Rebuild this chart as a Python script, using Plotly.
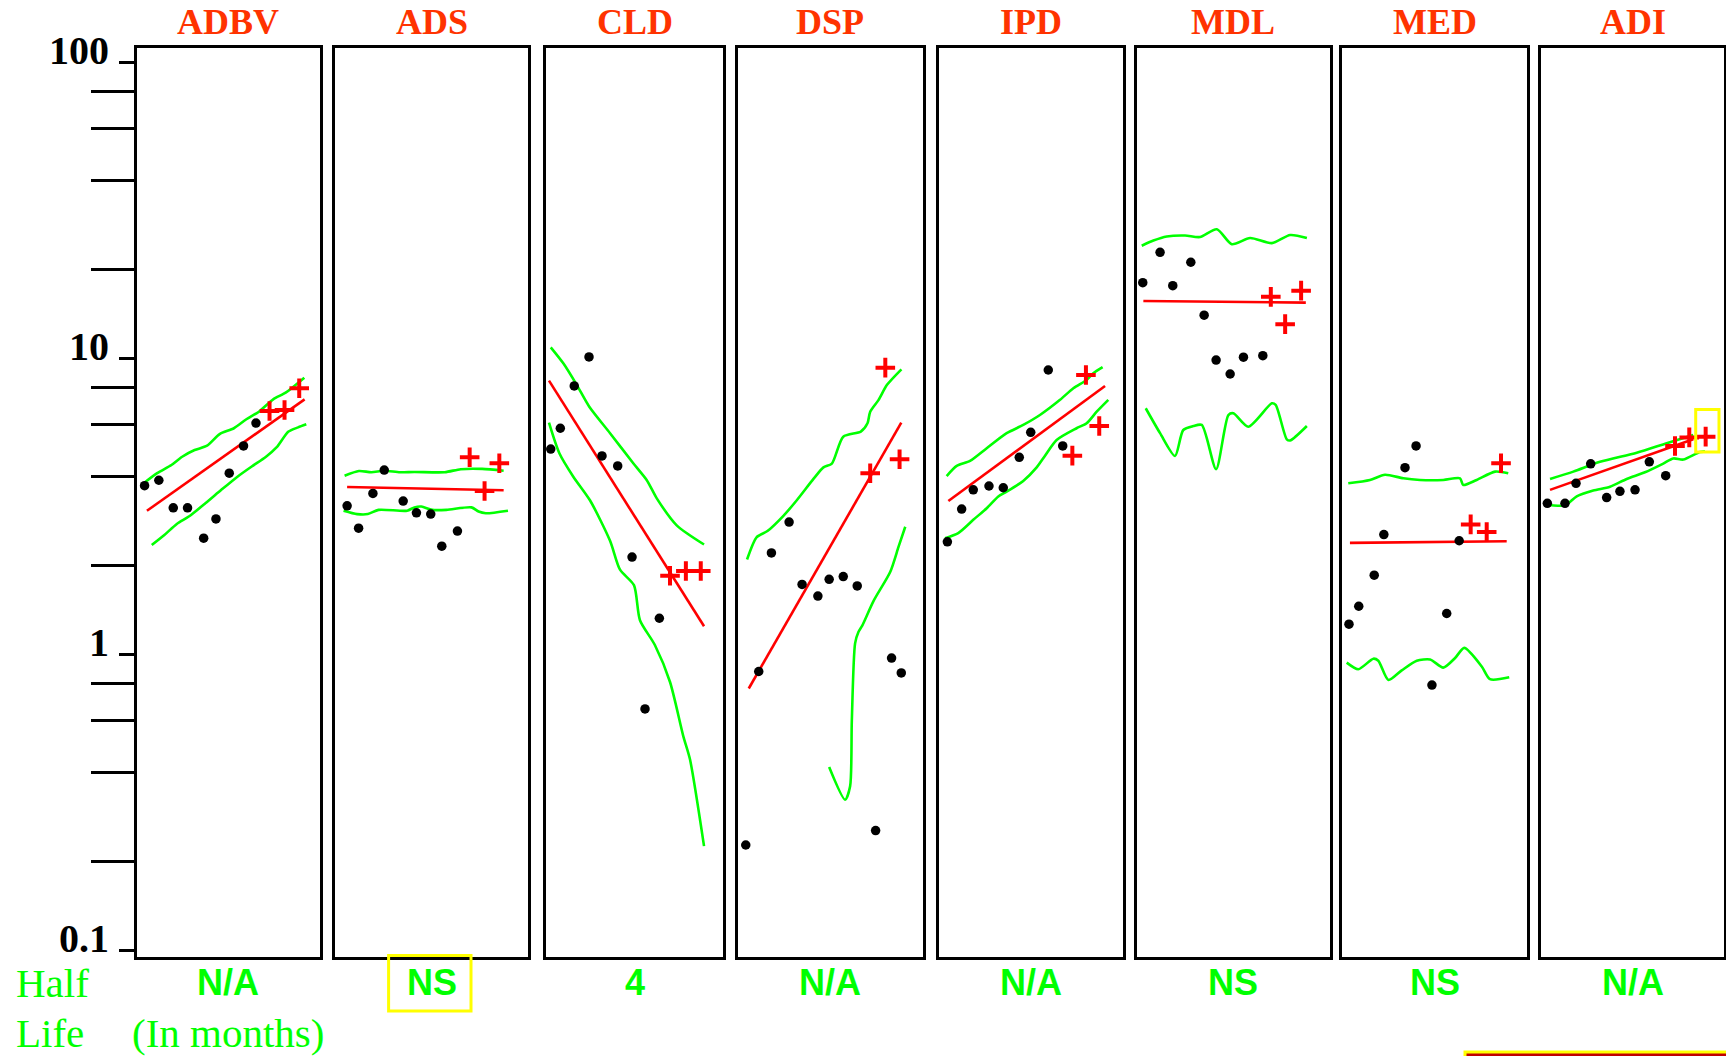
import math
import plotly.graph_objects as go

# ---- data -------------------------------------------------------------
PANELS = ["ADBV", "ADS", "CLD", "DSP", "IPD", "MDL", "MED", "ADI"]
HALF_LIFE = ["N/A", "NS", "4", "N/A", "N/A", "NS", "NS", "N/A"]

# panel frame edges in pixels (left, right)
FRAME_LEFT = [136.5, 334.6, 545.7, 737.5, 939.3, 1137.3, 1342.3, 1540.7]
FRAME_RIGHT = [320.3, 528.4, 723.3, 922.8, 1123.3, 1329.5, 1526.7, 1724.3]

# observed values (black dots), time in quarters
ADBV_obs_t = [0.57, 1.58, 2.60, 3.61, 4.75, 5.62, 6.56, 7.57, 8.45]
ADBV_obs_v = [3.73, 3.89, 3.14, 3.14, 2.48, 2.88, 4.11, 5.08, 6.07]
ADBV_new_t = [9.41, 10.47, 11.51]
ADBV_new_v = [6.67, 6.72, 7.96]
ADBV_fit_t = [0.74, 11.89]
ADBV_fit_v = [3.07, 7.30]
ADBV_up_t = [0.45, 1.46, 2.47, 3.23, 4.11, 4.99, 5.88, 6.89, 7.77, 8.66, 9.67, 10.55, 11.87]
ADBV_up_v = [3.78, 4.11, 4.38, 4.67, 4.92, 5.09, 5.57, 5.83, 6.25, 6.63, 7.30, 7.69, 8.64]
ADBV_lo_t = [1.08, 1.97, 2.85, 3.73, 4.87, 6.0, 7.14, 8.15, 9.16, 9.92, 10.75, 11.43, 12.01]
ADBV_lo_v = [2.35, 2.54, 2.77, 2.94, 3.25, 3.61, 4.00, 4.33, 4.67, 5.03, 5.68, 5.87, 6.01]

ADS_obs_t = [0.84, 1.61, 2.57, 3.33, 4.60, 5.49, 6.45, 7.19, 8.24]
ADS_obs_v = [3.19, 2.68, 3.51, 4.21, 3.31, 3.02, 2.99, 2.33, 2.62]
ADS_new_t = [9.06, 10.06, 11.05]
ADS_new_v = [4.65, 3.58, 4.44]
ADS_fit_t = [0.84, 11.34]
ADS_fit_v = [3.69, 3.60]
ADS_up_t = [0.67, 1.63, 2.47, 3.31, 4.39, 5.35, 7.38, 8.46, 9.90, 11.34]
ADS_up_v = [4.03, 4.18, 4.14, 4.19, 4.14, 4.15, 4.14, 4.24, 4.25, 4.19]
ADS_lo_t = [0.60, 1.51, 2.23, 2.95, 4.86, 5.35, 5.82, 6.54, 7.50, 9.18, 9.66, 10.14, 11.63]
ADS_lo_v = [3.07, 2.99, 2.99, 3.09, 3.07, 3.15, 3.17, 3.09, 3.09, 3.15, 3.05, 3.01, 3.07]

CLD_obs_t = [0.37, 1.07, 2.09, 3.17, 4.12, 5.27, 6.32, 7.27, 8.32]
CLD_obs_v = [4.96, 5.83, 8.10, 10.15, 4.70, 4.35, 2.14, 0.657, 1.33]
CLD_new_t = [9.10, 10.26, 11.35]
CLD_new_v = [1.85, 1.92, 1.92]
CLD_fit_t = [0.24, 11.59]
CLD_fit_v = [8.44, 1.25]
CLD_up_t = [0.37, 1.29, 2.27, 3.19, 4.71, 6.41, 7.39, 8.13, 9.59, 11.59]
CLD_up_v = [10.94, 9.66, 8.17, 6.89, 5.61, 4.44, 3.90, 3.38, 2.74, 2.36]
CLD_lo_t = [0.24, 1.0, 2.02, 3.24, 4.71, 5.44, 6.46, 6.90, 7.99, 9.10, 10.07, 10.56, 11.59]
CLD_lo_v = [6.09, 4.80, 4.00, 3.33, 2.43, 1.94, 1.72, 1.31, 1.08, 0.81, 0.532, 0.444, 0.226]

DSP_obs_t = [0.58, 1.49, 2.38, 3.62, 4.53, 5.64, 6.43, 7.42, 8.40, 9.69, 10.81, 11.49]
DSP_obs_v = [0.228, 0.879, 2.21, 2.81, 1.73, 1.58, 1.80, 1.84, 1.71, 0.255, 0.976, 0.869]
DSP_new_t = [9.31, 10.37, 11.37]
DSP_new_v = [4.11, 9.34, 4.58]
DSP_fit_t = [0.79, 11.49]
DSP_fit_v = [0.77, 6.09]
DSP_up_t = [0.67, 1.35, 2.10, 3.22, 4.16, 5.33, 6.03, 6.62, 7.42, 8.65, 9.12, 9.31, 9.90, 10.49, 11.50]
DSP_up_v = [2.10, 2.50, 2.62, 2.95, 3.33, 3.93, 4.30, 4.43, 5.46, 5.68, 6.06, 6.63, 7.27, 8.17, 9.22]
DSP_lo_t = [6.43, 7.55, 7.90, 8.02, 8.25, 8.49, 8.73, 9.54, 10.72, 11.30, 11.77]
DSP_lo_v = [0.418, 0.324, 0.36, 0.60, 1.094, 1.197, 1.25, 1.52, 1.91, 2.32, 2.71]

IPD_obs_t = [0.57, 1.58, 2.40, 3.51, 4.52, 5.65, 6.46, 7.70, 8.72]
IPD_obs_v = [2.41, 3.11, 3.61, 3.72, 3.67, 4.65, 5.65, 9.17, 5.08]
IPD_new_t = [9.40, 10.36, 11.30]
IPD_new_v = [4.71, 8.82, 5.93]
IPD_fit_t = [0.64, 11.71]
IPD_fit_v = [3.31, 8.10]
IPD_up_t = [0.52, 1.23, 2.17, 3.35, 4.76, 5.93, 7.11, 8.53, 9.47, 10.41, 10.88, 11.54]
IPD_up_v = [4.02, 4.35, 4.52, 4.99, 5.61, 5.98, 6.46, 7.27, 7.96, 8.49, 8.94, 9.37]
IPD_lo_t = [0.40, 1.34, 2.40, 3.35, 4.17, 4.76, 5.93, 6.88, 7.47, 8.29, 9.70, 10.41, 11.12, 11.94]
IPD_lo_v = [2.48, 2.58, 2.86, 3.13, 3.43, 3.56, 3.87, 4.30, 4.71, 5.32, 5.83, 6.06, 6.63, 7.27]

MDL_obs_t = [0.37, 1.54, 2.40, 3.62, 4.52, 5.33, 6.28, 7.18, 8.49]
MDL_obs_v = [18.09, 22.9, 17.67, 21.2, 14.04, 9.91, 8.89, 10.13, 10.25]
MDL_new_t = [9.03, 10.0, 11.08]
MDL_new_v = [16.2, 13.1, 17.0]
MDL_fit_t = [0.41, 11.40]
MDL_fit_v = [15.69, 15.49]
MDL_up_t = [0.30, 1.09, 1.99, 3.23, 4.24, 5.38, 6.39, 7.63, 9.10, 10.34, 11.47]
MDL_up_v = [24.1, 25.1, 25.9, 26.1, 25.8, 27.4, 24.4, 25.6, 24.6, 26.2, 25.6]
MDL_lo_t = [0.57, 1.54, 2.55, 3.11, 3.79, 4.36, 5.33, 6.16, 6.50, 7.51, 9.10, 9.36, 10.11, 10.34, 11.47]
MDL_lo_v = [6.81, 5.61, 4.70, 5.75, 5.93, 5.98, 4.24, 6.46, 6.55, 5.90, 7.08, 6.99, 5.35, 5.30, 5.93]

MED_obs_t = [0.47, 1.16, 2.25, 2.93, 4.42, 5.20, 6.32, 7.36, 8.24]
MED_obs_v = [1.27, 1.46, 1.86, 2.55, 4.29, 5.08, 0.791, 1.38, 2.43]
MED_new_t = [9.05, 10.18, 11.19]
MED_new_v = [2.76, 2.60, 4.44]
MED_fit_t = [0.54, 11.59]
MED_fit_v = [2.39, 2.42]
MED_up_t = [0.42, 1.95, 3.01, 4.30, 5.48, 7.12, 8.30, 8.53, 9.47, 10.77, 11.70]
MED_up_v = [3.80, 3.90, 4.06, 3.95, 3.90, 3.90, 3.95, 3.75, 3.90, 4.16, 4.11]
MED_lo_t = [0.31, 1.13, 2.19, 2.54, 3.25, 4.19, 5.25, 6.19, 7.12, 7.95, 8.60, 9.83, 10.41, 11.77]
MED_lo_v = [0.942, 0.895, 0.971, 0.956, 0.823, 0.887, 0.956, 0.965, 0.906, 0.976, 1.056, 0.914, 0.828, 0.840]

ADI_obs_t = [0.47, 1.72, 2.50, 3.54, 4.67, 5.61, 6.68, 7.69, 8.85]
ADI_obs_v = [3.25, 3.25, 3.80, 4.42, 3.40, 3.57, 3.61, 4.49, 4.03]
ADI_new_t = [9.51, 10.52, 11.68]
ADI_new_v = [5.08, 5.43, 5.46]
ADI_fit_t = [0.66, 10.80]
ADI_fit_v = [3.61, 5.35]
ADI_up_t = [0.66, 2.31, 4.20, 6.80, 8.92, 10.80]
ADI_up_v = [3.93, 4.16, 4.49, 4.82, 5.19, 5.53]
ADI_lo_t = [0.23, 1.72, 2.55, 3.72, 4.91, 6.09, 7.38, 8.68, 9.39, 10.10, 11.28, 11.63]
ADI_lo_v = [3.23, 3.20, 3.43, 3.59, 3.70, 3.93, 4.14, 4.43, 4.61, 4.57, 4.85, 4.86]

Y_MAJOR = [0.1, 1, 10, 100]
Y_MAJOR_TEXT = ["0.1", "1", "10", "100"]
Y_MINOR = [0.2, 0.4, 0.6, 0.8, 2, 4, 6, 8, 20, 40, 60, 80]

# ---- figure -----------------------------------------------------------
W, H = 1726, 1056
GREEN = "#00FF00"
RED = "#FF0000"
TITLE_COLOR = "#FF3300"
SERIF = "Liberation Serif"
SANS = "Liberation Sans"

series = {
    "ADBV": (ADBV_obs_t, ADBV_obs_v, ADBV_new_t, ADBV_new_v, ADBV_fit_t, ADBV_fit_v,
             ADBV_up_t, ADBV_up_v, ADBV_lo_t, ADBV_lo_v),
    "ADS": (ADS_obs_t, ADS_obs_v, ADS_new_t, ADS_new_v, ADS_fit_t, ADS_fit_v,
            ADS_up_t, ADS_up_v, ADS_lo_t, ADS_lo_v),
    "CLD": (CLD_obs_t, CLD_obs_v, CLD_new_t, CLD_new_v, CLD_fit_t, CLD_fit_v,
            CLD_up_t, CLD_up_v, CLD_lo_t, CLD_lo_v),
    "DSP": (DSP_obs_t, DSP_obs_v, DSP_new_t, DSP_new_v, DSP_fit_t, DSP_fit_v,
            DSP_up_t, DSP_up_v, DSP_lo_t, DSP_lo_v),
    "IPD": (IPD_obs_t, IPD_obs_v, IPD_new_t, IPD_new_v, IPD_fit_t, IPD_fit_v,
            IPD_up_t, IPD_up_v, IPD_lo_t, IPD_lo_v),
    "MDL": (MDL_obs_t, MDL_obs_v, MDL_new_t, MDL_new_v, MDL_fit_t, MDL_fit_v,
            MDL_up_t, MDL_up_v, MDL_lo_t, MDL_lo_v),
    "MED": (MED_obs_t, MED_obs_v, MED_new_t, MED_new_v, MED_fit_t, MED_fit_v,
            MED_up_t, MED_up_v, MED_lo_t, MED_lo_v),
    "ADI": (ADI_obs_t, ADI_obs_v, ADI_new_t, ADI_new_v, ADI_fit_t, ADI_fit_v,
            ADI_up_t, ADI_up_v, ADI_lo_t, ADI_lo_v),
}

fig = go.Figure()
Y_TOP, Y_BOT = 48.3, 956.6
y_domain = [1 - Y_BOT / H, 1 - Y_TOP / H]
y_range = [-1.019, 2.049]

layout = {}
annotations = []
for i, name in enumerate(PANELS):
    k = "" if i == 0 else str(i + 1)
    xa, ya = "x" + k, "y" + k
    ot, ov, nt, nv, ft, fv, ut, uv, lt, lv = series[name]

    for tt, vv in ((ut, uv), (lt, lv)):
        fig.add_trace(go.Scatter(x=tt, y=vv, mode="lines", xaxis=xa, yaxis=ya,
                                 line=dict(color=GREEN, width=2.6, shape="spline",
                                           smoothing=0.7),
                                 hoverinfo="skip"))
    fig.add_trace(go.Scatter(x=ft, y=fv, mode="lines", xaxis=xa, yaxis=ya,
                             line=dict(color=RED, width=2.6), hoverinfo="skip"))
    fig.add_trace(go.Scatter(x=ot, y=ov, mode="markers", xaxis=xa, yaxis=ya,
                             marker=dict(color="black", size=9.5)))
    fig.add_trace(go.Scatter(x=nt, y=nv, mode="markers", xaxis=xa, yaxis=ya,
                             marker=dict(symbol="cross-thin", size=14,
                                         line=dict(color=RED, width=4))))

    frame = dict(showline=True, mirror=True, linewidth=3, linecolor="black",
                 showgrid=False, zeroline=False, automargin=False)
    layout["xaxis" + k] = dict(domain=[FRAME_LEFT[i] / W, FRAME_RIGHT[i] / W],
                               range=[0, 13], anchor=ya, ticks="",
                               showticklabels=False, **frame)
    yax = dict(domain=y_domain, type="log", range=y_range, anchor=xa, **frame)
    if i == 0:
        yax.update(tickmode="array", tickvals=Y_MAJOR, ticks="outside",
                   ticklen=15, tickwidth=3, tickcolor="black",
                   showticklabels=False)
    else:
        yax.update(ticks="", showticklabels=False)
    layout["yaxis" + k] = yax

    cx = (FRAME_LEFT[i] + FRAME_RIGHT[i]) / 2 / W
    annotations.append(dict(text="<b>%s</b>" % name, x=cx, y=1 - 21.7 / H,
                            xref="paper", yref="paper", showarrow=False,
                            xanchor="center", yanchor="middle",
                            font=dict(family=SERIF, size=36, color=TITLE_COLOR)))
    annotations.append(dict(text="<b>%s</b>" % HALF_LIFE[i], x=cx, y=1 - 982 / H,
                            xref="paper", yref="paper", showarrow=False,
                            xanchor="center", yanchor="middle",
                            font=dict(family=SANS, size=36, color=GREEN)))

# decade labels sit just above their tick marks
for val, txt in zip(Y_MAJOR, Y_MAJOR_TEXT):
    annotations.append(dict(text="<b>%s</b>" % txt, x=111 / W, y=math.log10(val),
                            xref="paper", yref="y", showarrow=False,
                            xanchor="right", yanchor="bottom", yshift=-12,
                            font=dict(family=SERIF, size=40, color="black")))

# long minor ticks on the shared value axis (an invisible point keeps the
# overlaid axis alive)
fig.add_trace(go.Scatter(x=[ADBV_obs_t[0]], y=[ADBV_obs_v[0]], mode="markers",
                         xaxis="x", yaxis="y9", marker=dict(size=1, opacity=0),
                         hoverinfo="skip"))
layout["yaxis9"] = dict(overlaying="y", anchor="x", side="left", type="log",
                        range=y_range, tickmode="array", tickvals=Y_MINOR,
                        ticks="outside", ticklen=45, tickwidth=3,
                        tickcolor="black", showticklabels=False,
                        showline=False, showgrid=False, zeroline=False,
                        automargin=False)

for txt, x, y in (("Half", 14, 983), ("Life", 14, 1033), ("(In months)", 130, 1033)):
    annotations.append(dict(text=txt, x=x / W, y=1 - y / H, xref="paper",
                            yref="paper", showarrow=False, xanchor="left",
                            yanchor="middle",
                            font=dict(family=SERIF, size=41, color=GREEN)))

shapes = [
    dict(type="rect", xref="paper", yref="paper", x0=388.6 / W, x1=471 / W,
         y0=1 - 1011 / H, y1=1 - 955.5 / H, line=dict(color="#FFFF00", width=3)),
    dict(type="rect", xref="paper", yref="paper", x0=1695.7 / W, x1=1719 / W,
         y0=1 - 452 / H, y1=1 - 409.4 / H, line=dict(color="#FFFF00", width=3)),
    dict(type="rect", xref="paper", yref="paper", x0=1465 / W, x1=1.01,
         y0=-0.02, y1=1 - 1052 / H, fillcolor="#C00000",
         line=dict(color="#FFFF00", width=3)),
]

fig.update_layout(width=W, height=H, margin=dict(l=0, r=0, t=0, b=0, autoexpand=False),
                  paper_bgcolor="white", plot_bgcolor="white",
                  showlegend=False, annotations=annotations, shapes=shapes,
                  **layout)
fig.write_html("out.html")
